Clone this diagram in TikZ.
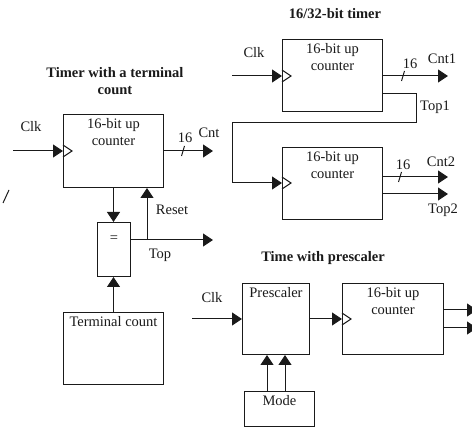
\documentclass[tikz,border=0pt]{standalone}
\usepackage{fontspec}
\setmainfont{Liberation Serif}
\usetikzlibrary{arrows.meta,calc,positioning}
\definecolor{WireInk}{HTML}{1A1A1A}
\tikzset{
  every node/.style={font=\fontsize{14.5}{17}\selectfont, text=WireInk, inner sep=0pt},
  block/.style={draw=WireInk, line width=1pt, anchor=north west},
  caption/.style={align=center, anchor=north},
  heading/.style={font=\fontsize{14.5}{17}\selectfont\bfseries, align=center},
  wire/.style={draw=WireInk, line width=1pt},
  signal/.style={wire, -{Triangle[length=10pt,width=13pt]}},
}

\begin{document}
\begin{tikzpicture}[x=1pt,y=-1pt]
  \useasboundingbox (0,0) rectangle (472,427);
  % Timer with a terminal count
  \node[heading] (titleA) at (115,81.5) {Timer with a terminal\\count};
  \node[block, minimum width=100pt, minimum height=73pt] (cntA) at (63,114) {};
  \node[caption] (cntAtxt) at ($(cntA.north)+(0,4)$) {16-bit up\\counter};
  \node[block, minimum width=33pt, minimum height=54pt] (eq) at (97,222) {};
  \node (eqtxt) at ($(eq.north)+(0,17)$) {=};
  \node[block, minimum width=100pt, minimum height=72pt] (term) at (63,312) {};
  \node[caption] (termtxt) at ($(term.north)+(0,4)$) {Terminal count};
  \coordinate (clkA) at (13,151);
  \coordinate (cntAout) at (213,151);
  \coordinate (busA) at (183,151);
  \coordinate (rst) at (147,240);
  \coordinate (topout) at (213,240);
  \draw[signal] (clkA) -- (clkA -| cntA.west);
  \draw[signal] (cntAout -| cntA.east) -- (cntAout);
  \draw[signal] (cntA.south) -- (cntA.south |- eq.north);
  \draw[signal] (term.north) -- (term.north |- eq.south);
  \draw[signal] (topout -| eq.east) -- (topout);
  \draw[signal] (rst) -- (rst |- cntA.south);
  \node (clkAlbl) at (31,127) {Clk};
  \node (busAlbl) at (185,138) {16};
  \node (cntAlbl) at (209,133) {Cnt};
  \node (rstlbl) at (172,210) {Reset};
  \node (toplbl) at (160,255) {Top};
  \draw[wire] (3,203) -- (9,190);
  % 16/32-bit timer
  \node[heading] (titleB) at (335,14) {16/32-bit timer};
  \node[block, minimum width=100pt, minimum height=72pt] (cntB1) at (282,39) {};
  \node[caption] (cntB1txt) at ($(cntB1.north)+(0,4)$) {16-bit up\\counter};
  \node[block, minimum width=100pt, minimum height=72pt] (cntB2) at (282,147) {};
  \node[caption] (cntB2txt) at ($(cntB2.north)+(0,4)$) {16-bit up\\counter};
  \coordinate (clkB) at (232,76);
  \coordinate (cnt1out) at (448,76);
  \coordinate (busB1) at (403,76);
  \coordinate (top1) at (382,94);
  \coordinate (loopR) at (416,123);
  \coordinate (loopL) at (232,183);
  \coordinate (cnt2out) at (448,177);
  \coordinate (busB2) at (400,177);
  \coordinate (top2out) at (448,194);
  \draw[signal] (clkB) -- (clkB -| cntB1.west);
  \draw[signal] (cnt1out -| cntB1.east) -- (cnt1out);
  \draw[signal] (top1) -| (loopR) -| (loopL) -- (loopL -| cntB2.west);
  \draw[signal] (cnt2out -| cntB2.east) -- (cnt2out);
  \draw[signal] (top2out -| cntB2.east) -- (top2out);
  \node (clkBlbl) at (254,53) {Clk};
  \node (busB1lbl) at (410,64) {16};
  \node (cnt1lbl) at (442,59) {Cnt1};
  \node (top1lbl) at (435,107) {Top1};
  \node (busB2lbl) at (403,165) {16};
  \node (cnt2lbl) at (441,162) {Cnt2};
  \node (top2lbl) at (443,210) {Top2};
  % Time with prescaler
  \node[heading] (titleC) at (323,258) {Time with prescaler};
  \node[block, minimum width=67pt, minimum height=71pt] (pre) at (242,283) {};
  \node[caption] (pretxt) at ($(pre.north)+(0,4.5)$) {Prescaler};
  \node[block, minimum width=101pt, minimum height=71pt] (cntC) at (342,283) {};
  \node[caption] (cntCtxt) at ($(cntC.north)+(0,4)$) {16-bit up\\counter};
  \node[block, minimum width=70pt, minimum height=35pt] (mode) at (244,391) {};
  \node[caption] (modetxt) at ($(mode.north)+(0,4.5)$) {Mode};
  \coordinate (clkC) at (192,319);
  \coordinate (outC1) at (477,310);
  \coordinate (outC2) at (477,328);
  \draw[signal] (clkC) -- (clkC -| pre.west);
  \draw[signal] (clkC -| pre.east) -- (clkC -| cntC.west);
  \draw[signal] (outC1 -| cntC.east) -- (outC1);
  \draw[signal] (outC2 -| cntC.east) -- (outC2);
  \foreach \x in {267,285}
    \draw[signal] (\x,0 |- mode.north) -- (\x,0 |- pre.south);
  \node (clkClbl) at (212,298) {Clk};
  % clock marks and bus marks
  \foreach \p in {clkA -| cntA.west, clkB -| cntB1.west, loopL -| cntB2.west, clkC -| cntC.west}
    \draw[wire, line join=miter] (\p) ++(0,-6) -- ++(9,6) -- ++(-9,6);
  \foreach \b in {busA,busB1,busB2}
    \draw[wire] (\b) ++(-1.5,5) -- ++(3,-10);
\end{tikzpicture}
\end{document}
